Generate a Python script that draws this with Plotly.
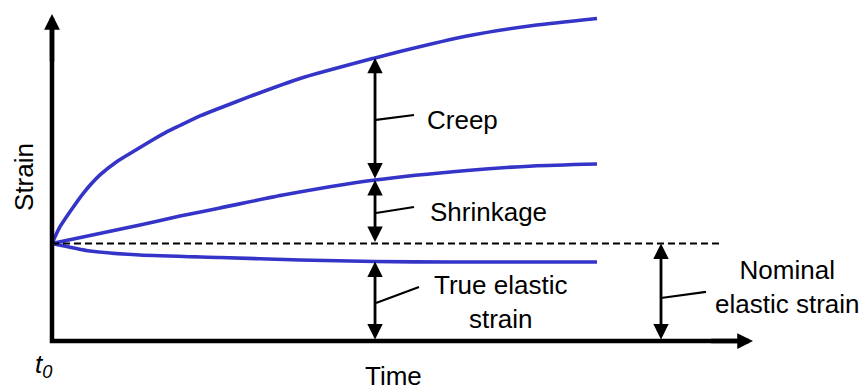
import plotly.graph_objects as go

# ---- data (schematic units: time, strain) ----
time_creep = [0.0, 0.147, 0.330, 0.574, 0.881, 1.187, 1.492, 1.798, 2.105, 2.349, 2.716, 3.083, 3.633, 4.550,
              5.927, 6.385, 7.615, 8.826, 10.0]
strain_total = [1.0, 1.172, 1.326, 1.515, 1.703, 1.839, 1.944, 2.046, 2.144, 2.210, 2.308, 2.390, 2.508, 2.692,
                2.903, 2.969, 3.128, 3.236, 3.308]

time_shrink = [0.0, 1.615, 2.349, 3.083, 4.239, 5.927, 7.615, 8.826, 10.0]
strain_shrink = [1.0, 1.190, 1.282, 1.364, 1.497, 1.651, 1.749, 1.795, 1.815]

time_elastic = [0.0, 0.697, 1.615, 3.083, 4.550, 5.927, 7.303, 10.0]
strain_elastic = [1.0, 0.923, 0.882, 0.856, 0.831, 0.815, 0.810, 0.810]

nominal_elastic = 1.0
t_measure = 5.927       # time where components are marked
t_nominal = 11.174      # position of nominal elastic strain arrow
t_dash_end = 12.257
t_axis_end = 12.862
s_axis_end = 3.354

labels = {
    "creep": "Creep",
    "shrink": "Shrinkage",
    "true": "True elastic<br>strain",
    "nominal": "Nominal<br>elastic strain",
    "x": "Time",
    "y": "Strain",
    "t0": "<i>t</i><sub><i>0</i></sub>",
}

BLUE = "#3434C8"
FONT = "Liberation Sans, Arial, sans-serif"
FS = 26

fig = go.Figure()
for tx, sy in [(time_creep, strain_total), (time_shrink, strain_shrink), (time_elastic, strain_elastic)]:
    fig.add_trace(go.Scatter(x=tx, y=sy, mode="lines",
                             line=dict(color=BLUE, width=3.6, shape="spline", smoothing=0.6),
                             hoverinfo="skip", showlegend=False))

# dashed nominal line
fig.add_trace(go.Scatter(x=[0, t_dash_end], y=[nominal_elastic, nominal_elastic], mode="lines",
                         line=dict(color="black", width=2, dash="7px,4px"),
                         hoverinfo="skip", showlegend=False))

shapes = [
    dict(type="path", xref="x", yref="y",
         path=f"M 0,{s_axis_end - 0.1} L 0,0 L {t_axis_end - 0.1},0",
         line=dict(color="black", width=4.5)),
]
# leader lines
for (x0, y0, x1, y1) in [(5.945, 2.267, 6.642, 2.318),
                         (5.945, 1.313, 6.642, 1.374),
                         (5.945, 0.390, 6.734, 0.554),
                         (11.174, 0.441, 12.0, 0.503)]:
    shapes.append(dict(type="line", xref="x", yref="y", x0=x0, y0=y0, x1=x1, y1=y1,
                       line=dict(color="black", width=2.2)))

annotations = []
# axis arrowheads
annotations.append(dict(x=0, y=s_axis_end, ax=0, ay=s_axis_end - 0.5, xref="x", yref="y", axref="x", ayref="y",
                        text="", showarrow=True, arrowhead=2, arrowwidth=4.5, arrowsize=0.7, arrowcolor="black", standoff=0))
annotations.append(dict(x=t_axis_end, y=0, ax=t_axis_end - 0.8, ay=0, xref="x", yref="y", axref="x", ayref="y",
                        text="", showarrow=True, arrowhead=2, arrowwidth=4.5, arrowsize=0.7, arrowcolor="black", standoff=0))

# double-headed dimension arrows
def dbl(x, y0, y1):
    return dict(x=x, y=y1, ax=x, ay=y0, xref="x", yref="y", axref="x", ayref="y",
                text="", showarrow=True, arrowside="end+start", arrowhead=2, startarrowhead=2,
                arrowwidth=2.8, arrowsize=1.1, startarrowsize=1.1, arrowcolor="black",
                standoff=0, startstandoff=0)

annotations += [
    dbl(t_measure, strain_shrink[5], strain_total[14]),
    dbl(t_measure, nominal_elastic, strain_shrink[5]),
    dbl(t_measure, 0, strain_elastic[5]),
    dbl(t_nominal, 0, nominal_elastic),
]

def txt(x, y, s, xanchor="center", **kw):
    d = dict(x=x, y=y, xref="x", yref="y", text=s, showarrow=False, xanchor=xanchor, yanchor="middle",
             font=dict(family=FONT, size=FS, color="black"))
    d.update(kw)
    return d

annotations += [
    txt(6.844, 2.267, labels["creep"], xanchor="left"),
    txt(6.899, 1.323, labels["shrink"], xanchor="left"),
    txt(8.220, 0.395, labels["true"]),
    txt(13.486, 0.554, labels["nominal"]),
    txt(6.275, -0.360, labels["x"]),
    txt(-0.147, -0.256, labels["t0"]),
    txt(-0.514, 1.682, labels["y"], textangle=-90),
]

fig.update_layout(
    width=862, height=388,
    margin=dict(l=0, r=0, t=0, b=0),
    paper_bgcolor="white", plot_bgcolor="white",
    xaxis=dict(range=[-0.954, 14.862], visible=False, fixedrange=True),
    yaxis=dict(range=[-0.482, 3.497], visible=False, fixedrange=True),
    shapes=shapes, annotations=annotations, showlegend=False,
)

fig.write_html("out.html", config=dict(displayModeBar=False),
               post_script="document.body.style.margin='0px';document.body.style.overflow='hidden';")
